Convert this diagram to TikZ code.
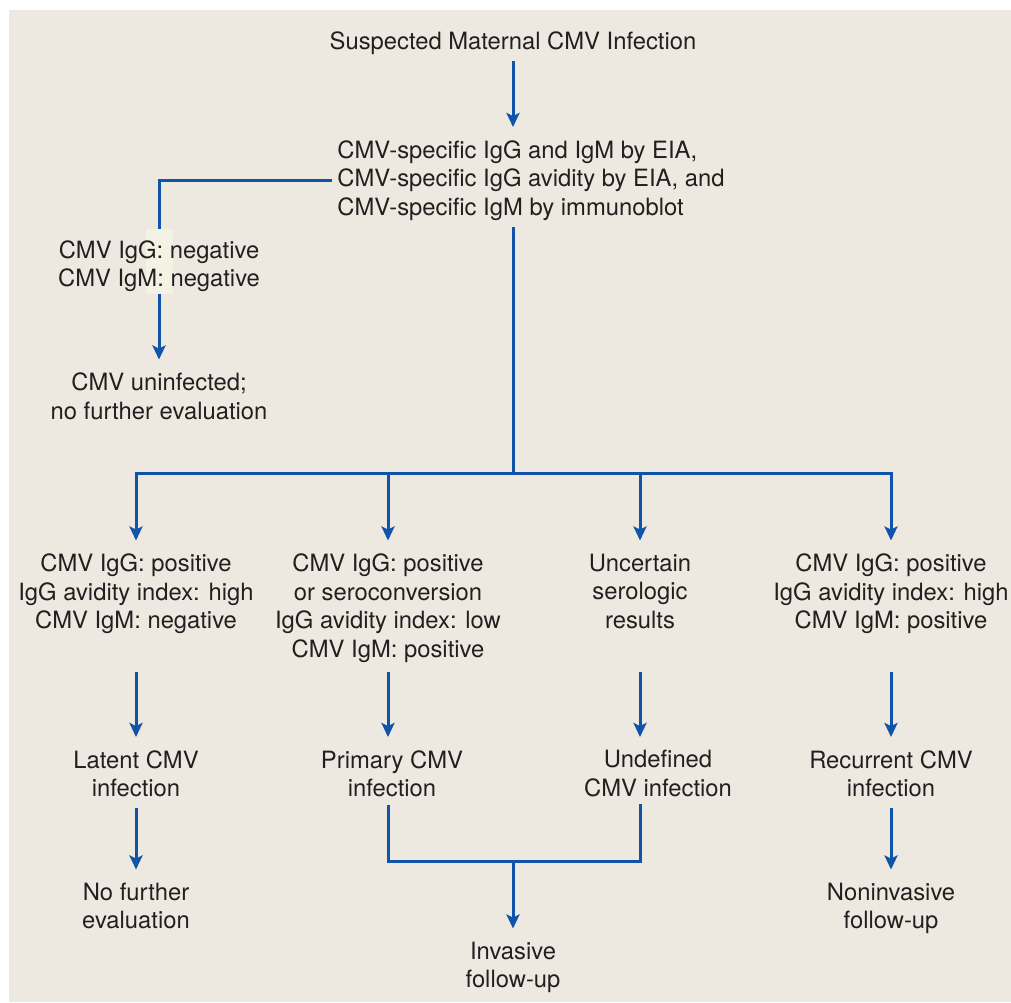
\documentclass[tikz,border=0pt]{standalone}
\usepackage{fontspec}
\setmainfont{TeX Gyre Heros}
\usepackage{xcolor}
\usepackage{tikz}
\usetikzlibrary{arrows.meta,positioning,backgrounds,calc}
\definecolor{paper}{HTML}{EEE9E0}
\definecolor{flow}{HTML}{0F54A8}
\definecolor{ink}{HTML}{231F20}
\definecolor{patch}{HTML}{F4F3E3}

\begin{document}
\begin{tikzpicture}[
  x=0.5pt,y=-0.5pt,
  txt/.style={inner sep=0pt,align=center,text=ink,font=\fontsize{11.9}{14.3}\selectfont},
  conn/.style={draw=flow,line width=1.5pt},
  arr/.style={conn,-{Stealth[length=7pt,width=6.5pt,inset=1.5pt]},shorten >=6.5pt,shorten <=3pt}
]
\useasboundingbox (0,0) rectangle (1011,1002);
\node[txt] (susp) at (513,43.5) {Suspected Maternal CMV Infection};
\node[txt,align=left,anchor=west] (test) at (337,180.5) {CMV-specific IgG and IgM by EIA,\\CMV-specific IgG avidity by EIA, and\\CMV-specific IgM by immunoblot};
\node[txt] (neg) at (159,266) {CMV IgG: negative\\CMV IgM: negative};
\node[txt,anchor=north] (uninf) at (159,372.5) {CMV uninfected;\\no further evaluation};
% serology results
\node[txt,anchor=north] (res1) at (136,553.5) {CMV IgG: positive\\IgG avidity index: high\\CMV IgM: negative};
\node[txt,anchor=north] (res2) at (388,553.5) {CMV IgG: positive\\or seroconversion\\IgG avidity index: low\\CMV IgM: positive};
\node[txt,anchor=north] (res3) at (640,553.5) {Uncertain\\serologic\\results};
\node[txt,anchor=north] (res4) at (891,553.5) {CMV IgG: positive\\IgG avidity index: high\\CMV IgM: positive};
% diagnoses
\node[txt,anchor=north] (dx1) at (136,750) {Latent CMV\\infection};
\node[txt,anchor=north] (dx2) at (392,750) {Primary CMV\\infection};
\node[txt,anchor=north] (dx3) at (658,750) {Undefined\\CMV infection};
\node[txt,anchor=north] (dx4) at (891,750) {Recurrent CMV\\infection};
% follow-up
\node[txt,anchor=north] (nofu) at (136,882.5) {No further\\evaluation};
\node[txt,anchor=north] (invas) at (513,941.5) {Invasive\\follow-up};
\node[txt,anchor=north] (noninv) at (891,882.5) {Noninvasive\\follow-up};
\coordinate (bus) at (513,473);
\coordinate (join) at (513,861);
\begin{scope}[on background layer]
\fill[paper] (9,10) rectangle (1011,1002);
\draw[arr,shorten <=2.75pt] (susp.south) -- (susp.south |- test.north);
\draw[arr,shorten <=2.5pt] (test.west) -| (uninf.north);
\draw[conn,shorten <=3.25pt] (susp.south |- test.south) -- (bus);
\foreach \i in {1,...,4} { \draw[arr,shorten <=0pt] (bus) -| (res\i.north); }
\foreach \i in {1,...,4} { \draw[arr,shorten <=4.25pt] (res\i.north |- res2.south) -- (res\i.north |- dx\i.north); }
\draw[arr,shorten <=5pt] (dx1.south) -- (nofu.north);
\draw[arr,shorten <=5pt] (dx4.south) -- (noninv.north);
\draw[conn,shorten <=3.5pt,shorten >=3.5pt] (res2.north |- dx2.south) |- (join) -| (res3.north |- dx3.south);
\draw[arr,shorten <=0pt] (join) -- (invas.north);
\fill[patch] (146,229) rectangle (173,294);
\end{scope}
\end{tikzpicture}
\end{document}
